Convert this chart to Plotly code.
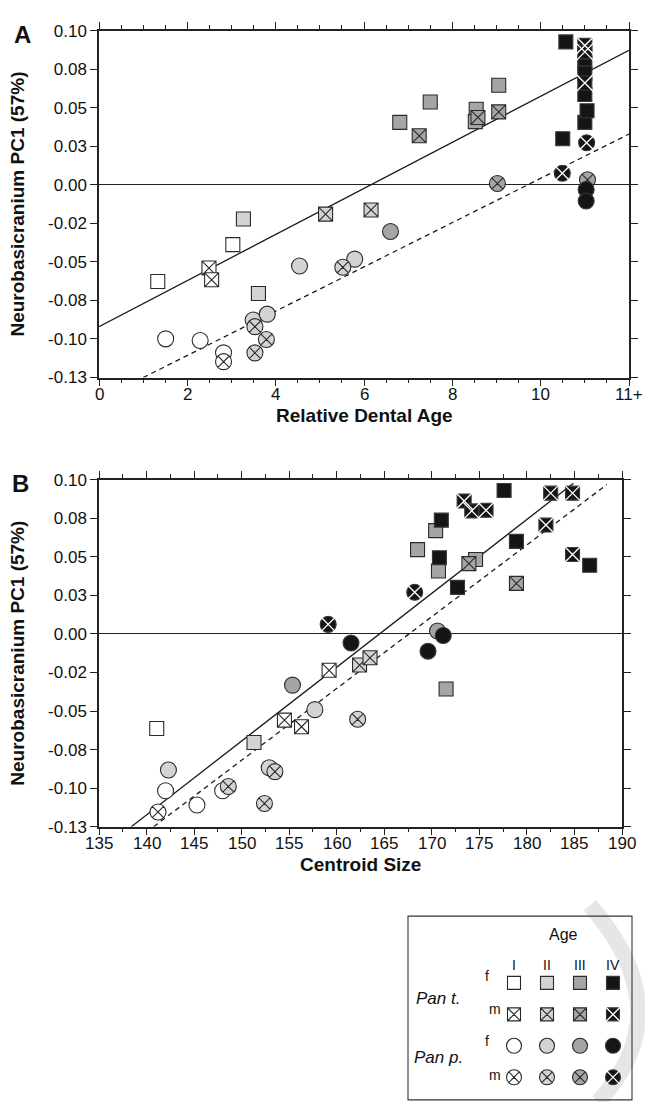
import plotly.graph_objects as go

W, H = 645, 1102

# ---------------- data: panel A (Relative Dental Age) ----------------
dental_age = [1.33, 3.03, 2.49, 2.55, 3.27, 3.61, 5.13, 6.16,
              6.81, 7.50, 8.54, 9.05, 8.52, 7.25, 8.58, 9.05,
              10.57, 10.50, 11.0, 11.0, 11.0, 11.0, 11.0, 11.0, 11.05, 11.0,
              1.51, 2.29, 2.82, 2.82, 3.49, 3.81, 4.54, 5.79, 3.53, 3.79, 3.53, 5.52,
              6.60, 9.02, 11.06, 11.03, 11.03, 10.49, 11.04]
pc1_a = [-0.0627, -0.0388, -0.0540, -0.0616, -0.0222, -0.0705, -0.0190, -0.0163,
         0.0405, 0.0537, 0.0490, 0.0646, 0.0410, 0.0318, 0.0437, 0.0473,
         0.0927, 0.0299, 0.0788, 0.0724, 0.0586, 0.0405, 0.0904, 0.0862, 0.0480, 0.0660,
         -0.0999, -0.1010, -0.1090, -0.1147, -0.0877, -0.0839, -0.0527, -0.0482, -0.0920, -0.1003, -0.1090, -0.0535,
         -0.0303, 0.0008, 0.0033, -0.0030, -0.0105, 0.0075, 0.0273]
species_a = ["t"] * 26 + ["p"] * 19
sex_a = ["f", "f", "m", "m", "f", "f", "m", "m",
         "f", "f", "f", "f", "f", "m", "m", "m",
         "f", "f", "f", "f", "f", "f", "m", "m", "f", "m",
         "f", "f", "f", "m", "f", "f", "f", "f", "m", "m", "m", "m",
         "f", "m", "m", "f", "f", "m", "m"]
age_a = ["I", "I", "I", "I", "II", "II", "II", "II",
         "III", "III", "III", "III", "III", "III", "III", "III",
         "IV", "IV", "IV", "IV", "IV", "IV", "IV", "IV", "IV", "IV",
         "I", "I", "I", "I", "II", "II", "II", "II", "II", "II", "II", "II",
         "III", "III", "III", "IV", "IV", "IV", "IV"]

# ---------------- data: panel B (Centroid Size) ----------------
centroid_size = [141.07, 154.5, 156.3, 159.2, 151.3, 162.4, 163.5,
                 168.5, 170.4, 170.7, 171.5, 174.6, 173.9, 178.9,
                 171.0, 170.8, 172.7, 177.6, 178.9, 186.6,
                 173.4, 174.2, 175.7, 182.5, 184.8, 182.0, 184.8,
                 142.0, 145.3, 148.0, 141.2, 142.3, 152.9, 157.7, 153.5, 148.6, 152.4, 162.2,
                 155.35, 170.6, 161.5, 171.2, 169.6, 159.1, 168.2]
pc1_b = [-0.0613, -0.0559, -0.0602, -0.0236, -0.0704, -0.0202, -0.0155,
         0.0547, 0.0670, 0.0408, -0.0357, 0.0483, 0.0456, 0.0328,
         0.0738, 0.0494, 0.0302, 0.0930, 0.0600, 0.0445,
         0.0862, 0.0798, 0.0802, 0.0913, 0.0913, 0.0706, 0.0515,
         -0.1017, -0.1110, -0.1017, -0.1155, -0.0883, -0.0868, -0.0491, -0.0893, -0.0990, -0.1100, -0.0553,
         -0.0332, 0.0019, -0.0059, -0.0010, -0.0112, 0.0062, 0.0270]
species_b = ["t"] * 27 + ["p"] * 18
sex_b = ["f", "m", "m", "m", "f", "m", "m",
         "f", "f", "f", "f", "f", "m", "m",
         "f", "f", "f", "f", "f", "f",
         "m", "m", "m", "m", "m", "m", "m",
         "f", "f", "f", "m", "f", "f", "f", "m", "m", "m", "m",
         "f", "f", "f", "f", "f", "m", "m"]
age_b = ["I", "I", "I", "I", "II", "II", "II",
         "III", "III", "III", "III", "III", "III", "III",
         "IV", "IV", "IV", "IV", "IV", "IV",
         "IV", "IV", "IV", "IV", "IV", "IV", "IV",
         "I", "I", "I", "I", "II", "II", "II", "II", "II", "II", "II",
         "III", "III", "IV", "IV", "IV", "IV", "IV"]

# regression lines: (slope, intercept, x_start, x_end)
fit_a_solid = (0.01494, -0.0920, 0.0, 12.0)
fit_a_dashed = (0.01436, -0.1394, 1.003, 12.0)
fit_b_solid = (0.00479, -0.00479 * 164.5, 138.4, 184.9)
fit_b_dashed = (0.004656, -0.004656 * 167.6, 140.75, 188.4)

y_ticks = [-0.125, -0.1, -0.075, -0.05, -0.025, 0.0, 0.025, 0.05, 0.075, 0.1]
y_ticktext = ["-0.13", "-0.10", "-0.08", "-0.05", "-0.02", "0.00", "0.03", "0.05", "0.08", "0.10"]
xa_ticks = [0, 2, 4, 6, 8, 10, 12]
xa_ticktext = ["0", "2", "4", "6", "8", "10", "11+"]
xb_ticks = [135, 140, 145, 150, 155, 160, 165, 170, 175, 180, 185, 190]
xb_ticktext = ["135", "140", "145", "150", "155", "160", "165", "170", "175", "180", "185", "190"]

age_levels = ["I", "II", "III", "IV"]
age_fill = {"I": "#ffffff", "II": "#d3d3d3", "III": "#a5a5a5", "IV": "#151515"}

FONT = "Liberation Sans, Arial, sans-serif"
AX = "#222222"

fig = go.Figure()


def add_markers(xs, ys, sp, sex, age, xaxis, yaxis, sq=14, ci=16):
    fill = age_fill[age]
    size = sq if sp == "t" else ci
    base = "square" if sp == "t" else "circle"
    if sex == "m" and age != "IV":
        fig.add_trace(go.Scatter(x=xs, y=ys, mode="markers", xaxis=xaxis, yaxis=yaxis,
                                 hoverinfo="skip",
                                 marker=dict(symbol=base + "-x", size=size, color=fill,
                                             line=dict(color="#2a2a2a", width=1.1))))
    else:
        fig.add_trace(go.Scatter(x=xs, y=ys, mode="markers", xaxis=xaxis, yaxis=yaxis,
                                 hoverinfo="skip",
                                 marker=dict(symbol=base, size=size, color=fill,
                                             line=dict(color="#2a2a2a" if age != "IV" else "#3a3a3a",
                                                       width=1.1))))
        if sex == "m":
            xs_size = size * 1.25 if sp == "t" else size * 0.88
            fig.add_trace(go.Scatter(x=xs, y=ys, mode="markers", xaxis=xaxis, yaxis=yaxis,
                                     hoverinfo="skip",
                                     marker=dict(symbol="x-thin-open", size=xs_size, color="white",
                                                 line=dict(color="white", width=1.3))))


def draw_panel(xv, yv, spv, sexv, agev, xaxis, yaxis, fits):
    for (m, b, x0, x1), dash in fits:
        fig.add_trace(go.Scatter(x=[x0, x1], y=[b + m * x0, b + m * x1], mode="lines",
                                 xaxis=xaxis, yaxis=yaxis, hoverinfo="skip",
                                 line=dict(color="#1a1a1a", width=1.3, dash=dash)))
    for sp in ["p", "t"]:
        for age in age_levels:
            for sex in ["f", "m"]:
                idx = [i for i in range(len(xv)) if spv[i] == sp and agev[i] == age and sexv[i] == sex]
                if not idx:
                    continue
                add_markers([xv[i] for i in idx], [yv[i] for i in idx], sp, sex, age, xaxis, yaxis)


draw_panel(dental_age, pc1_a, species_a, sex_a, age_a, "x", "y",
           [(fit_a_solid, "solid"), (fit_a_dashed, "5px,4px")])
draw_panel(centroid_size, pc1_b, species_b, sex_b, age_b, "x2", "y2",
           [(fit_b_solid, "solid"), (fit_b_dashed, "5px,4px")])

# ---------------- legend key (pixel-space hidden axis) ----------------
key_cols = [514, 547, 580, 613]
key_rows = [("t", "f", 991), ("t", "m", 1023), ("p", "f", 1055), ("p", "m", 1087)]
for sp, sex, ry in key_rows:
    for cx, age in zip(key_cols, age_levels):
        add_markers([cx], [ry], sp, sex, age, "x3", "y3", sq=13, ci=15)


def px(x):
    return x / W


def py(y):
    return 1 - y / H


axis_common = dict(showline=True, linewidth=1.5, linecolor=AX, mirror="ticks",
                   ticks="outside", ticklen=7, tickwidth=1.2, tickcolor=AX,
                   showgrid=False, tickfont=dict(family=FONT, size=17, color="#111"))

fig.update_layout(
    width=W, height=H, margin=dict(l=0, r=0, t=0, b=0),
    paper_bgcolor="white", plot_bgcolor="rgba(0,0,0,0)", showlegend=False,
    xaxis=dict(domain=[px(99), px(629)], anchor="y", range=[0, 12],
               tickvals=xa_ticks, showticklabels=False, zeroline=False,
               minor=dict(dtick=0.5, tick0=0, ticklen=4, ticks="outside", tickwidth=1.2, tickcolor=AX),
               **axis_common),
    yaxis=dict(domain=[py(375), py(22)], anchor="x", range=[-0.125, 0.1],
               tickvals=y_ticks, ticktext=y_ticktext,
               zeroline=True, zerolinecolor=AX, zerolinewidth=1.2, **axis_common),
    xaxis2=dict(domain=[px(99), px(622)], anchor="y2", range=[135, 190],
                tickvals=xb_ticks, showticklabels=False, zeroline=False,
                minor=dict(dtick=2.5, tick0=135, ticklen=4, ticks="outside", tickwidth=1.2, tickcolor=AX),
                **axis_common),
    yaxis2=dict(domain=[py(832), py(479)], anchor="x2", range=[-0.125, 0.1],
                tickvals=y_ticks, ticktext=y_ticktext,
                zeroline=True, zerolinecolor=AX, zerolinewidth=1.2, **axis_common),
    xaxis3=dict(domain=[0, 1], anchor="y3", range=[0, W], visible=False, fixedrange=True),
    yaxis3=dict(domain=[0, 1], anchor="x3", range=[H, 0], visible=False, fixedrange=True),
)

# watermark-like light stroke and legend box
wm = "M {},{} Q {},{} {},{}".format(px(590), py(912), px(682), py(1020), px(598), py(1112))
fig.add_shape(type="path", path=wm, xref="paper", yref="paper", layer="below",
              line=dict(color="#e6e6e6", width=16))
fig.add_shape(type="rect", xref="paper", yref="paper", x0=px(408), x1=px(632),
              y0=py(1110), y1=py(923), line=dict(color="#333", width=1.1), layer="below")

ann = []


def text(x, y, s, size, bold=False, italic=False, angle=0, xanchor="center", xref="paper"):
    if bold:
        s = "<b>" + s + "</b>"
    if italic:
        s = "<i>" + s + "</i>"
    ann.append(dict(x=px(x) if xref == "paper" else x, y=py(y), xref=xref, yref="paper",
                    text=s, showarrow=False,
                    textangle=angle, xanchor=xanchor, yanchor="middle",
                    font=dict(family=FONT, size=size, color="#111")))


# x tick labels placed as text at the tick values
for v, lab in zip(xa_ticks, xa_ticktext):
    text(v, 392, lab, 17, xref="x")
for v, lab in zip(xb_ticks, xb_ticktext):
    text(v, 849, lab, 17, xref="x2")

text(18, 199, "Neurobasicranium PC1 (57%)", 19, bold=True, angle=-90)
text(18, 656, "Neurobasicranium PC1 (57%)", 19, bold=True, angle=-90)
text(364, 414, "Relative Dental Age", 19, bold=True)
text(361, 871, "Centroid Size", 19, bold=True)
text(22, 26, "A", 24, bold=True)
text(20, 483, "B", 24, bold=True)
text(563, 942, "Age", 16)
for cx, lab in zip(key_cols, age_levels):
    text(cx, 973, lab, 14)
text(487, 984, "f", 14)
text(495, 1018, "m", 14)
text(487, 1050, "f", 14)
text(495, 1085, "m", 14)
text(438, 1007, "Pan t.", 17, italic=True)
text(438, 1067, "Pan p.", 17, italic=True)
fig.update_layout(annotations=ann)

fig.write_html("out.html")
